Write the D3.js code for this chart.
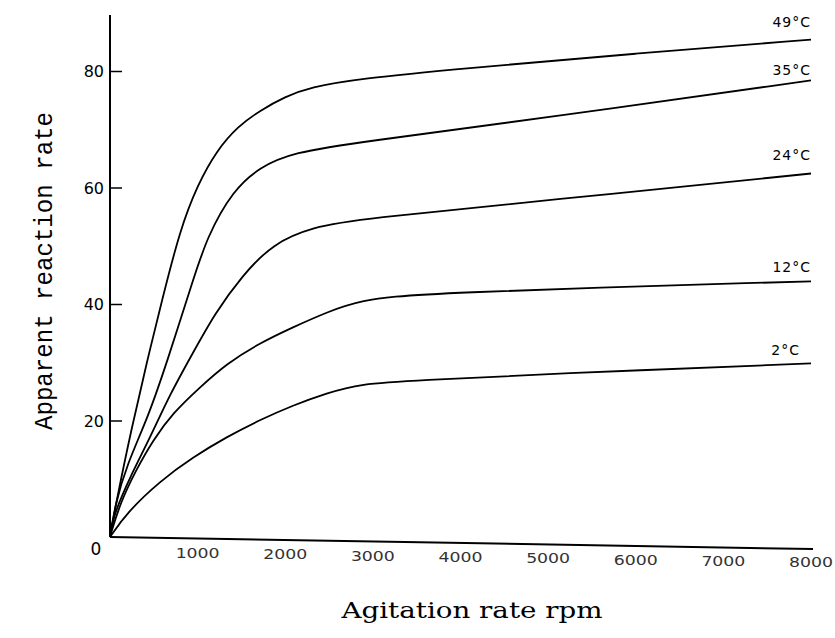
<!DOCTYPE html>
<html><head><meta charset="utf-8">
<script src="https://cdn.jsdelivr.net/npm/d3@7"></script>
<style>body{margin:0;background:#fff}svg{display:block}</style>
</head><body><svg id="c" width="835" height="638"></svg>
<script>
const seriesLabels = ["49°C","35°C","24°C","12°C","2°C"];
const labelRates = [87.6, 79.3, 64.7, 45.5, 31.2];
const rpm49 = [0, 91, 250, 420, 593, 798, 1000, 1220, 1460, 1710, 2000, 2280, 2850, 4000, 6000, 8000];
const rate49 = [0, 7.5, 18.9, 30, 40.6, 52.7, 60.5, 66.4, 70.5, 73.2, 75.6, 77.2, 78.7, 80.4, 83, 85.4];
const rpm35 = [0, 57, 194, 433, 650, 935, 1106, 1403, 1710, 2087, 2850, 5000, 8000];
const rate35 = [0, 5.5, 12.5, 20.5, 30, 43.5, 51.5, 59.5, 63.5, 66, 67.8, 72, 78.4];
const rpm24 = [0, 34, 228, 456, 684, 946, 1197, 1505, 1859, 2315, 2850, 5000, 8000];
const rate24 = [0, 3.5, 10.3, 17, 24.5, 31.6, 38.4, 44.8, 50.4, 53.2, 54.6, 57.8, 62.4];
const rpm12 = [0, 114, 308, 490, 718, 1026, 1334, 1710, 2087, 2474, 2850, 3500, 8000];
const rate12 = [0, 5.8, 11.8, 16.6, 21.3, 25.7, 29.8, 33.3, 36, 38.6, 40.6, 41.9, 43.9];
const rpm2 = [0, 194, 570, 946, 1334, 1710, 2087, 2474, 2850, 3500, 5000, 8000];
const rate2 = [0, 4.2, 9.6, 13.7, 17.2, 20.1, 22.6, 24.7, 26.3, 26.9, 28, 29.8];
const xTicks = [1000,2000,3000,4000,5000,6000,7000,8000];
const yTicks = [20,40,60,80];

const svg = d3.select("#c");
const x = d3.scaleLinear().domain([0,8000]).range([110,811]);
const y = d3.scaleLinear().domain([0,80]).range([537,71]);

// axes lines
svg.append("line").attr("x1",110).attr("x2",110).attr("y1",y(0)).attr("y2",15)
  .attr("stroke","#000").attr("stroke-width",2);
svg.append("line").attr("x1",110).attr("x2",x(8000)+2).attr("y1",y(0)).attr("y2",y(0)+12)
  .attr("stroke","#000").attr("stroke-width",2);

// y ticks (inside) and labels
const yAxis = d3.axisRight(y).tickValues(yTicks).tickSize(12).tickFormat("");
const gy = svg.append("g").attr("transform","translate(110,0)").call(yAxis);
gy.select(".domain").remove();
gy.selectAll(".tick line").attr("stroke","#000").attr("stroke-width",1.5);
svg.selectAll(".ylab").data(yTicks).enter().append("text")
  .attr("x",104).attr("y",d=>y(d)+6).attr("text-anchor","end")
  .attr("font-family","DejaVu Sans").attr("font-size",16).text(d=>d);
svg.append("text").attr("x",96).attr("y",555).attr("text-anchor","middle")
  .attr("font-family","DejaVu Sans").attr("font-size",17).text("0");

// x tick labels
svg.selectAll(".xlab").data(xTicks).enter().append("text")
  .attr("x",d=>x(d)).attr("y",(d,i)=>558+i*1.3).attr("text-anchor","middle")
  .attr("font-family","DejaVu Sans").attr("font-size",14).attr("fill","#333")
  .attr("textLength",44).attr("lengthAdjust","spacingAndGlyphs").text(d=>d);

// curves
const series = [[rpm49,rate49],[rpm35,rate35],[rpm24,rate24],[rpm12,rate12],[rpm2,rate2]];
const line = d3.line().x(d=>x(d[0])).y(d=>y(d[1])).curve(d3.curveBasis);
series.forEach(([r,v])=>{
  svg.append("path").datum(r.map((d,i)=>[d,v[i]])).attr("d",line)
    .attr("fill","none").attr("stroke","#000").attr("stroke-width",1.8);
});

// series labels
svg.selectAll(".slab").data(seriesLabels).enter().append("text")
  .attr("x",(d,i)=>i===4?800:811).attr("y",(d,i)=>y(labelRates[i])).attr("text-anchor","end")
  .attr("font-family","DejaVu Sans").attr("font-size",14).attr("letter-spacing",1).text(d=>d);

// axis titles
svg.append("text").attr("transform","translate(52,271) rotate(-90)")
  .attr("text-anchor","middle").attr("font-family","Liberation Mono").attr("font-size",26)
  .attr("textLength",318).attr("lengthAdjust","spacingAndGlyphs").text("Apparent reaction rate");
svg.append("text").attr("x",472).attr("y",618).attr("text-anchor","middle")
  .attr("font-family","DejaVu Serif").attr("font-size",23)
  .attr("textLength",261).attr("lengthAdjust","spacingAndGlyphs").text("Agitation rate rpm");
</script></body></html>
